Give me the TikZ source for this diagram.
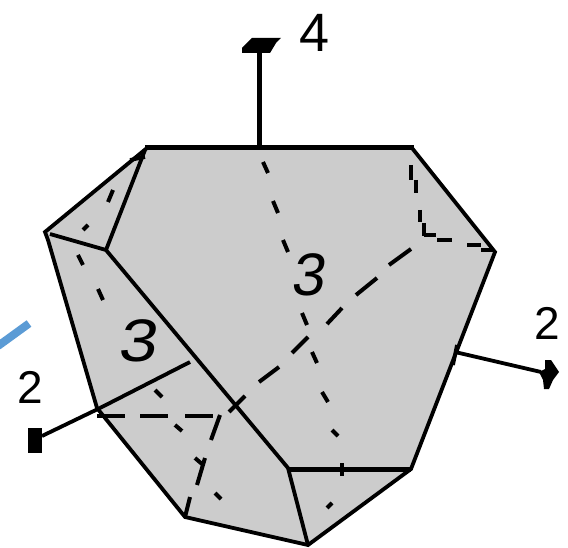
\documentclass[tikz,border=0pt]{standalone}
\usepackage{fontspec}
\setmainfont{Liberation Sans}
\definecolor{facegray}{RGB}{204,204,204}
\definecolor{strokeblue}{RGB}{91,155,213}
\tikzset{
  edgeline/.style={line width=3.8pt,line cap=butt,line join=miter,black},
  boldline/.style={line width=5pt,line cap=butt,black},
  dashbit/.style={line width=4pt,line cap=butt,black},
  digit/.style={inner sep=0pt,font=\fontsize{46}{46}\selectfont},
  slantdigit/.style={inner sep=0pt,font=\fontsize{60}{60}\selectfont},
}
\begin{document}
\begin{tikzpicture}[x=1pt,y=-1pt]
\useasboundingbox (0,0) rectangle (568,548);
% stray blue stroke
\draw[strokeblue,line width=8pt] (-2,346) -- (29,323.5);
% faces
\fill[facegray] (147,148) -- (412,148) -- (493,252) -- (411,469) -- (308,545) -- (185,517) -- (97,408) -- (45,232) -- cycle;
% outline
\draw[edgeline] (147,148) -- (45,232) -- (48,240) -- (97,408) -- (185,517) -- (308,545) -- (411,469) -- (495,252) -- (412,148);
\draw[boldline] (145,148) -- (414,148);
% front edges
\draw[edgeline] (145,150) -- (106,250);
\draw[edgeline] (50,234) -- (106,250) -- (288,468) -- (308,545);
\draw[boldline] (287,469) -- (411,469);
\draw[edgeline] (342,463) -- (342,476);
\draw[edgeline] (130,160) -- (145,157);
% axes
\draw[boldline] (259.5,53) -- (259.5,148);
\fill (252,38) -- (281,38) -- (276,43) -- (270,53) -- (242,53) -- (242,48) -- cycle;
\draw[edgeline] (42,436) -- (100,408) -- (190,362);
\fill (28,428) rectangle (42,453);
\draw[edgeline] (455,352) -- (541,372);
\draw[edgeline] (457,345) -- (453,365);
\fill (539,372) -- (545,369) -- (545,360) -- (551,360) -- (559,372) -- (553,380) -- (549,389) -- (544,389) -- (543,380) -- cycle;
% hidden edges and axes
\foreach \xa/\ya/\xb/\yb in {
  263/162/268/173, 273/201/278/213, 283/240/288/252, 302/313/307/325, 312/352/317/363,
  322/392/328/402, 332/430/338/436,
  411/249/389/265, 377/278/356/295, 342/308/327/324, 308/337/292/353, 279/367/259/382, 245/396/229/412,
  97/416/125/416, 140/416/168/416, 185/416/213/416,
  220/415/211/440, 205/458/197/485, 195/458/202/464, 190/497/185/517,
  155/390/162/397, 175/425/182/431, 215/493/221/499, 332/503/327/508,
  113/190/108/202, 88/225/83/230, 78/255/83/265, 98/289/103/300,
  411/165/411/180, 416/180/416/193, 420/210/420/222, 424/223/424/236,
  424/235/436/235, 437/240/452/240, 467/245/481/245, 481/250/494/250}
  {\draw[dashbit] (\xa,\ya) -- (\xb,\yb);}
% labels
\node[digit,font=\fontsize{54}{54}\selectfont] (n4) at (315,33) {4};
\node[digit] (n2r) at (547,323) {2};
\node[digit] (n2l) at (30,387) {2};
\node[slantdigit,xslant=0.15] (n3a) at (310,275) {3};
\node[slantdigit,xslant=0.15,xscale=1.15] (n3b) at (140,341) {3};
\end{tikzpicture}
\end{document}
